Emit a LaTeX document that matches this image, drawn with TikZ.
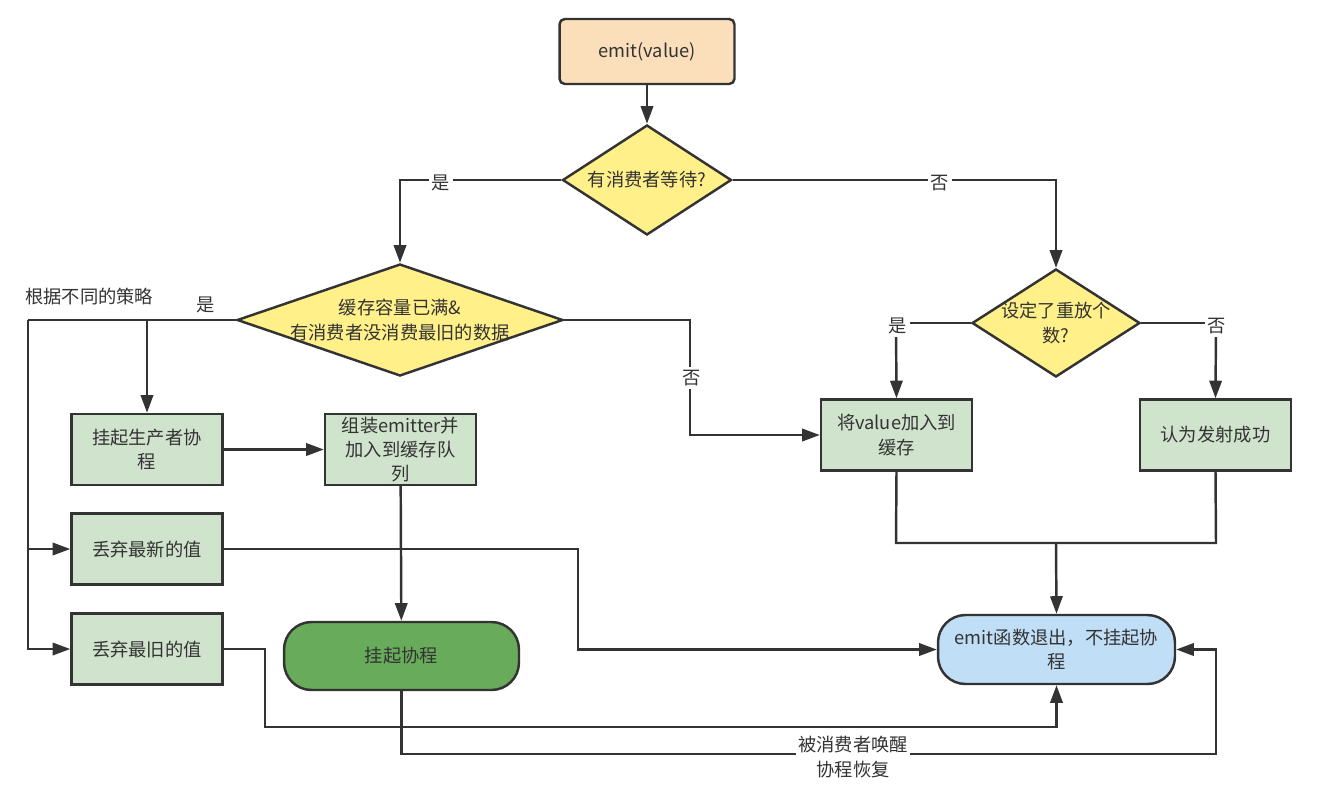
\documentclass[tikz,border=0pt]{standalone}
\usepackage{fontspec}
\setmainfont{Noto Sans CJK SC}
\usetikzlibrary{arrows.meta,shapes.geometric}
\definecolor{peach}{RGB}{250,223,186}
\definecolor{ylw}{RGB}{255,240,138}
\definecolor{lgreen}{RGB}{208,228,205}
\definecolor{dgreen}{RGB}{103,171,91}
\definecolor{lblue}{RGB}{192,222,246}
\definecolor{ink}{RGB}{51,51,51}
\tikzset{
  every node/.style={font=\fontsize{10.4pt}{13.8pt}\selectfont, text=ink},
  boxst/.style={draw=ink, line width=1.4pt, fill=lgreen, minimum width=3.02cm, minimum height=1.42cm, align=center, inner sep=0pt},
  startst/.style={draw=ink, line width=1.4pt, fill=peach, rounded corners=3pt, minimum width=3.5cm, minimum height=1.3cm, align=center},
  decst/.style={draw=ink, line width=1.4pt, fill=ylw, shape=diamond, inner sep=0pt, align=center},
  pillst/.style={draw=ink, line width=1.4pt, rounded corners=0.55cm, align=center, inner sep=0pt},
  conn/.style={draw=ink, line width=1.4pt},
  arr/.style={conn, -{Triangle[length=10pt,width=7pt]}},
  lbl/.style={fill=white, inner sep=1.5pt, align=center}
}
\begin{document}
\begin{tikzpicture}[x=0.02cm,y=-0.02cm]
\useasboundingbox (0,0) rectangle (1326,792);

% nodes
\node[startst] (emit) at (647,51.5) {emit(value)};
\node[decst, minimum width=3.38cm, minimum height=2.2cm, aspect=1.55] (d1) at (647,180) {有消费者等待?};
\node[decst, minimum width=6.52cm, minimum height=2.24cm, aspect=2.9, inner xsep=-16pt] (d2) at (400,320) {缓存容量已满\&\\有消费者没消费最旧的数据};
\node[decst, minimum width=3.36cm, minimum height=2.16cm, aspect=1.56, inner xsep=-9pt] (d3) at (1056,323) {设定了重放个\\数?};

\node[boxst] (sp) at (147,449.5) {挂起生产者协\\程};
\node[boxst] (pack) at (400.5,449.5) {组装emitter并\\加入到缓存队\\列};
\node[boxst] (dnew) at (147,549) {丢弃最新的值};
\node[boxst] (dold) at (147,649) {丢弃最旧的值};
\node[boxst] (addc) at (896.5,435) {将value加入到\\缓存};
\node[boxst] (succ) at (1215.5,435) {认为发射成功};

\node[pillst, fill=dgreen, minimum width=4.7cm, minimum height=1.36cm] (susp) at (401.5,656) {挂起协程};
\node[pillst, fill=lblue, minimum width=4.74cm, minimum height=1.38cm] (exit) at (1056.5,649.5) {emit函数退出，不挂起协\\程};

\node[anchor=west, inner sep=0pt] (strat) at (25,297) {根据不同的策略};

% coordinates
\coordinate (c1) at (400,180);
\coordinate (c2) at (1056,180);
\coordinate (lft) at (28,320);
\coordinate (rgt) at (690,320);
\coordinate (c3) at (896,323);
\coordinate (c4) at (1216,323);
\coordinate (j) at (1056,543);
\coordinate (jl) at (896,543);
\coordinate (jr) at (1216,543);
\coordinate (n1) at (578,549);
\coordinate (o1) at (265,649);
\coordinate (o2) at (265,727);
\coordinate (s1) at (401.5,754);
\coordinate (s2) at (1216,754);
\coordinate (s3) at (1216,649.5);

% connectors
\draw[arr] (emit) -- (d1);
\draw[arr] (d1.west) -- (c1) -- (d2.north);
\draw[arr] (d1.east) -- (c2) -- (d3.north);
\node[lbl] (yes1) at (441,183) {是};
\node[lbl] (no1) at (940,183) {否};

\draw[conn] (d2.west) -- (lft);
\draw[arr] (lft) |- (dnew.west);
\draw[arr] (lft) |- (dold.west);
\draw[arr] (sp.north |- d2.west) -- (sp.north);
\node (yes2) at (206,305) {是};

\draw[arr] (d2.east) -- (rgt) |- (addc.west);
\node[lbl] (no2) at (692,378) {否};

\draw[arr] (sp) -- (pack);
\draw[arr] (pack) -- (susp);

\draw[conn] (d3.west) -- (c3);
\draw[arr] (c3) -- (addc.north);
\draw[conn] (d3.east) -- (c4);
\draw[arr] (c4) -- (succ.north);
\node[lbl] (yes3) at (898,326) {是};
\node[lbl] (no3) at (1217,326) {否};

\draw[conn] (addc.south) -- (jl) -- (jr) -- (succ.south);
\draw[arr] (j) -- (exit.north);

\draw[arr] (dnew.east) -- (n1) |- (exit.west);
\draw[arr] (dold.east) -- (o1) -- (o2) -| (exit.south);
\draw[arr] (susp.south) -- (s1) -- (s2) -- (s3) -- (exit.east);
\node[lbl, inner sep=1pt] (wake) at (853,757) {被消费者唤醒\\协程恢复};
\end{tikzpicture}
\end{document}
